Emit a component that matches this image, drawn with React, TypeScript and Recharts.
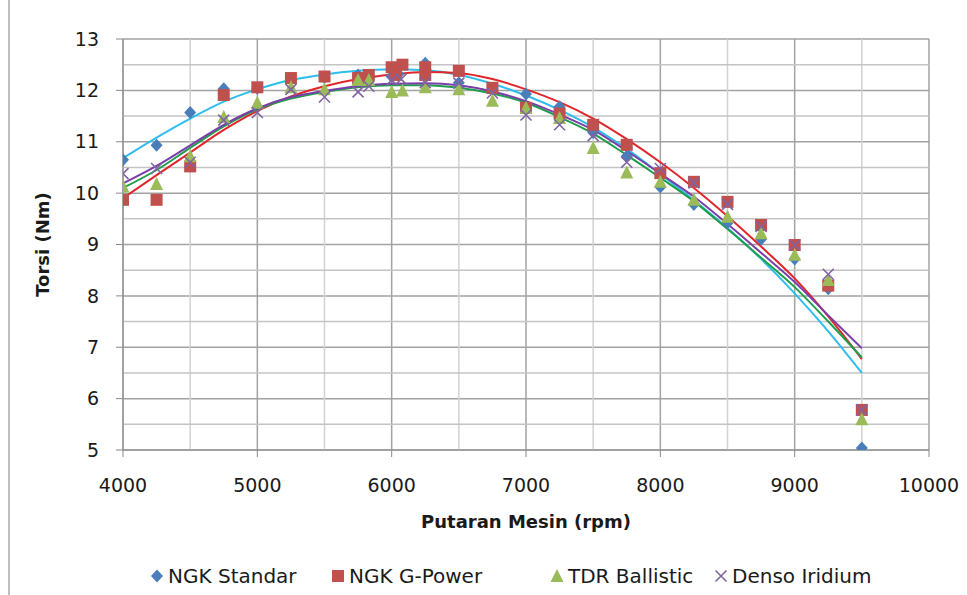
import React from "react";
import {
  CartesianGrid,
  ComposedChart,
  Line,
  ReferenceLine,
  Scatter,
  XAxis,
  YAxis,
} from "recharts";

// axis ticks
const rpmTicks = [4000, 5000, 6000, 7000, 8000, 9000, 10000];
const torqueTicks = [5, 6, 7, 8, 9, 10, 11, 12, 13];
const rpmMinor = [4500, 5500, 6500, 7500, 8500, 9500];
const torqueMinor = [5.5, 6.5, 7.5, 8.5, 9.5, 10.5, 11.5, 12.5];

const standarRpm = [4000, 4250, 4500, 4750, 5000, 5250, 5500, 5750, 6000, 6050, 6250, 6500, 6750, 7000, 7250, 7500, 7750, 8000, 8250, 8500, 8750, 9000, 9250, 9500];
const standarTorque = [10.65, 10.93, 11.57, 12.03, 12.04, 12.2, 12.25, 12.3, 12.27, 12.32, 12.53, 12.15, 12.02, 11.93, 11.68, 11.18, 10.72, 10.12, 9.78, 9.42, 9.1, 8.72, 8.14, 5.04];

const gpowerRpm = [4000, 4250, 4500, 4750, 5000, 5250, 5500, 5750, 5830, 6000, 6030, 6080, 6250, 6250, 6500, 6750, 7000, 7250, 7500, 7750, 8000, 8250, 8500, 8750, 9000, 9250, 9500];
const gpowerTorque = [9.87, 9.87, 10.52, 11.91, 12.06, 12.24, 12.27, 12.24, 12.3, 12.45, 12.3, 12.5, 12.45, 12.3, 12.38, 12.05, 11.66, 11.55, 11.33, 10.94, 10.39, 10.22, 9.83, 9.38, 8.99, 8.2, 5.78];

const tdrRpm = [4000, 4250, 4500, 4750, 5000, 5250, 5500, 5750, 5830, 6000, 6080, 6250, 6500, 6750, 7000, 7250, 7500, 7750, 8000, 8250, 8500, 8750, 9000, 9250, 9500];
const tdrTorque = [10.13, 10.18, 10.72, 11.48, 11.76, 12.06, 12.02, 12.2, 12.2, 11.97, 12.0, 12.06, 12.02, 11.8, 11.66, 11.46, 10.88, 10.4, 10.22, 9.87, 9.54, 9.22, 8.8, 8.31, 5.6];

const densoRpm = [4000, 4250, 4500, 4750, 5000, 5250, 5500, 5750, 5830, 6000, 6070, 6250, 6500, 6750, 7000, 7250, 7500, 7750, 8000, 8250, 8500, 8750, 9000, 9250, 9500];
const densoTorque = [10.38, 10.48, 10.6, 11.42, 11.57, 12.02, 11.87, 11.97, 12.08, 12.2, 12.22, 12.15, 12.14, 11.95, 11.52, 11.33, 11.12, 10.6, 10.48, 10.2, 9.78, 9.35, 8.99, 8.42, 5.78];

// polynomial trendlines
const trendRpm = [4000, 4250, 4500, 4750, 5000, 5250, 5500, 5750, 6000, 6250, 6500, 6750, 7000, 7250, 7500, 7750, 8000, 8250, 8500, 8750, 9000, 9250, 9500];
const standarTrend = [10.68, 11.08, 11.45, 11.78, 12.02, 12.2, 12.31, 12.38, 12.41, 12.39, 12.3, 12.13, 11.9, 11.62, 11.28, 10.86, 10.37, 9.86, 9.32, 8.72, 8.05, 7.31, 6.5];
const gpowerTrend = [9.9, 10.35, 10.79, 11.23, 11.6, 11.88, 12.08, 12.22, 12.31, 12.36, 12.34, 12.22, 12.02, 11.77, 11.45, 11.05, 10.6, 10.1, 9.55, 8.96, 8.34, 7.6, 6.77];
const tdrTrend = [10.1, 10.45, 10.88, 11.3, 11.63, 11.84, 11.97, 12.06, 12.1, 12.1, 12.05, 11.94, 11.76, 11.48, 11.16, 10.74, 10.3, 9.84, 9.3, 8.74, 8.17, 7.5, 6.8];
const densoTrend = [10.19, 10.53, 10.93, 11.33, 11.65, 11.87, 11.99, 12.08, 12.13, 12.14, 12.1, 11.98, 11.79, 11.53, 11.23, 10.82, 10.38, 9.93, 9.4, 8.84, 8.27, 7.62, 6.98];

const toPoints = (xs: number[], ys: number[]) => xs.map((rpm, i) => ({ rpm, t: ys[i] }));

const FONT = "DejaVu Sans";

const series = [
  { name: "NGK Standar", color: "#4a7ebb", trend: "#2fbdee", marker: "diamond", pts: toPoints(standarRpm, standarTorque), line: toPoints(trendRpm, standarTrend) },
  { name: "NGK G-Power", color: "#c0504d", trend: "#e0262a", marker: "square", pts: toPoints(gpowerRpm, gpowerTorque), line: toPoints(trendRpm, gpowerTrend) },
  { name: "TDR Ballistic", color: "#9bbb59", trend: "#1e9e4a", marker: "triangle", pts: toPoints(tdrRpm, tdrTorque), line: toPoints(trendRpm, tdrTrend) },
  { name: "Denso Iridium", color: "#8064a2", trend: "#7a3ea8", marker: "x", pts: toPoints(densoRpm, densoTorque), line: toPoints(trendRpm, densoTrend) },
];

function Marker({ kind, cx, cy, color }: { kind: string; cx: number; cy: number; color: string }) {
  if (kind === "diamond") {
    return <path d={`M${cx},${cy - 6.5}L${cx + 6},${cy}L${cx},${cy + 6.5}L${cx - 6},${cy}Z`} fill={color} />;
  }
  if (kind === "square") {
    return <rect x={cx - 6} y={cy - 6} width={12} height={12} fill={color} />;
  }
  if (kind === "triangle") {
    return <path d={`M${cx},${cy - 7}L${cx + 6.5},${cy + 6}L${cx - 6.5},${cy + 6}Z`} fill={color} />;
  }
  return (
    <path
      d={`M${cx - 5.5},${cy - 5.5}L${cx + 5.5},${cy + 5.5}M${cx + 5.5},${cy - 5.5}L${cx - 5.5},${cy + 5.5}`}
      stroke={color}
      strokeWidth={1.6}
      fill="none"
    />
  );
}

const legendSlots = [149, 330, 549, 713];

export default function App() {
  return (
    <div style={{ position: "absolute", left: 0, top: 0, width: 967, height: 595, background: "#fff" }}>
      <div style={{ position: "absolute", left: 8, top: 0, width: 2, height: 595, background: "#bdbdbd" }} />
      <ComposedChart width={967} height={595} margin={{ top: 39, right: 38, bottom: 0, left: 0 }}>
        {rpmMinor.map((v) => (
          <ReferenceLine key={`vx${v}`} x={v} stroke="#d2d2d2" strokeWidth={1.5} />
        ))}
        {torqueMinor.map((v) => (
          <ReferenceLine key={`hy${v}`} y={v} stroke="#c4c4c4" strokeWidth={1.5} />
        ))}
        <CartesianGrid stroke="#a2a2a2" strokeWidth={1.5} />
        <XAxis
          dataKey="rpm"
          type="number"
          domain={[4000, 10000]}
          ticks={rpmTicks}
          interval={0}
          height={145}
          tickSize={7}
          tickMargin={22}
          stroke="#8a8a8a"
          tick={{ fontSize: 19, fill: "#1a1a1a", fontFamily: FONT }}
          allowDataOverflow
          label={(p: any) => (
            <text
              x={p.viewBox.x + p.viewBox.width / 2}
              y={p.viewBox.y + 71}
              textAnchor="middle"
              dominantBaseline="central"
              fontFamily={FONT}
              fontWeight="bold"
              fontSize={18}
              fill="#1a1a1a"
            >
              Putaran Mesin (rpm)
            </text>
          )}
        />
        <YAxis
          dataKey="t"
          type="number"
          domain={[5, 13]}
          ticks={torqueTicks}
          interval={0}
          width={123}
          tickSize={7}
          tickMargin={17}
          stroke="#8a8a8a"
          tick={{ fontSize: 19, fill: "#1a1a1a", fontFamily: FONT }}
          allowDataOverflow
          label={(p: any) => {
            const cy = p.viewBox.y + p.viewBox.height / 2;
            return (
              <text
                x={42}
                y={cy}
                transform={`rotate(-90 42 ${cy})`}
                textAnchor="middle"
                dominantBaseline="central"
                fontFamily={FONT}
                fontWeight="bold"
                fontSize={18}
                fill="#1a1a1a"
              >
                Torsi (Nm)
              </text>
            );
          }}
        />
        {series.map((s) => (
          <Scatter
            key={`pts-${s.name}`}
            name={s.name}
            data={s.pts}
            dataKey="t"
            isAnimationActive={false}
            shape={(p: any) => <Marker kind={s.marker} cx={p.cx} cy={p.cy} color={s.color} />}
          />
        ))}
        {series.map((s) => (
          <Line
            key={`trend-${s.name}`}
            data={s.line}
            dataKey="t"
            type="monotone"
            stroke={s.trend}
            strokeWidth={2}
            dot={false}
            activeDot={false}
            isAnimationActive={false}
          />
        ))}
      </ComposedChart>
      {series.map((s, i) => (
        <div
          key={`leg-${s.name}`}
          style={{
            position: "absolute",
            left: legendSlots[i],
            top: 563,
            height: 26,
            display: "flex",
            alignItems: "center",
            fontFamily: FONT,
            fontSize: 20,
            color: "#1a1a1a",
            whiteSpace: "nowrap",
          }}
        >
          <svg width={16} height={16} style={{ marginRight: 3 }}>
            <Marker kind={s.marker} cx={8} cy={8} color={s.color} />
          </svg>
          {s.name}
        </div>
      ))}
    </div>
  );
}
